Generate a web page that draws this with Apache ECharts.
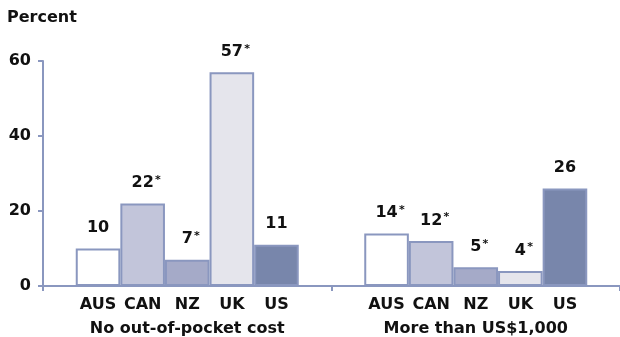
<!DOCTYPE html>
<html><head><meta charset="utf-8">
<script src="https://cdn.jsdelivr.net/npm/echarts@6/dist/echarts.min.js"></script>
<style>html,body{margin:0;padding:0;background:#fff}#c{width:620px;height:337px}</style>
</head><body><div id="c"></div>
<script>
const groups = ['No out-of-pocket cost', 'More than US$1,000'];
const countries = ['AUS', 'CAN', 'NZ', 'UK', 'US'];
const aus = [10, 14];
const can = [22, 12];
const nz = [7, 5];
const uk = [57, 4];
const us = [11, 26];
const ausStar = [false, true];
const canStar = [true, true];
const nzStar = [true, true];
const ukStar = [true, true];
const usStar = [false, false];
const yTicks = [0, 20, 40, 60];

const colors = ['#ffffff', '#c2c5da', '#a5aac8', '#e5e5ec', '#7886ab'];
const border = '#8a97bf';
const font = '"DejaVu Sans", Verdana, sans-serif';
const txt = '#111';
const seriesData = [aus, can, nz, uk, us];
const stars = [ausStar, canStar, nzStar, ukStar, usStar];
const BW = 44.6;

const rich = {};
countries.forEach((c, i) => {
  rich['c' + i] = { width: BW, align: 'center', fontSize: 16, fontWeight: 'bold', color: txt, fontFamily: font, lineHeight: 24 };
});
rich.g = { fontSize: 16, fontWeight: 'bold', color: txt, fontFamily: font, lineHeight: 24, align: 'center' };

const valRich = {
  v: { fontSize: 16, fontWeight: 'bold', color: txt, fontFamily: font, lineHeight: 17 },
  s: { fontSize: 11, fontWeight: 'bold', color: txt, fontFamily: font, lineHeight: 17, verticalAlign: 'top', width: 7, align: 'right' },
  h: { fontSize: 11, color: 'transparent', fontFamily: font, lineHeight: 17, width: 7 }
};

const chart = echarts.init(document.getElementById('c'));
chart.setOption({
  animation: false,
  title: { text: 'Percent', left: 7, top: 10, padding: 0, textStyle: { fontSize: 16, fontWeight: 'bold', color: txt, fontFamily: font } },
  grid: { left: 43, right: 0, top: 61, bottom: 51, containLabel: false },
  xAxis: {
    type: 'category', data: groups, boundaryGap: true,
    axisLine: { lineStyle: { color: border, width: 2 } },
    axisTick: { show: true, length: 5, lineStyle: { color: border, width: 2 } },
    axisLabel: {
      margin: 7, interval: 0,
      formatter: (v) => countries.map((c, i) => '{c' + i + '|' + c + '}').join('') + '\n{g|' + v + '}',
      rich: rich
    }
  },
  yAxis: {
    type: 'value', min: 0, max: 60, interval: 20,
    axisLine: { show: true, lineStyle: { color: border, width: 2 } },
    axisTick: { show: true, length: 5, lineStyle: { color: border, width: 2 } },
    splitLine: { show: false },
    axisLabel: { margin: 12, fontSize: 16, fontWeight: 'bold', color: txt, fontFamily: font,
      formatter: (v) => yTicks.includes(v) ? String(v) : '' }
  },
  series: seriesData.map((d, si) => ({
    type: 'bar', name: countries[si], data: d, barWidth: BW, barGap: '0%',
    itemStyle: { color: colors[si], borderColor: border, borderWidth: 2 },
    label: {
      show: true, position: 'top', distance: 12,
      formatter: (p) => stars[si][p.dataIndex] ? '{h|*}{v|' + p.value + '}{s|*}' : '{v|' + p.value + '}',
      rich: valRich
    }
  }))
});
</script></body></html>
